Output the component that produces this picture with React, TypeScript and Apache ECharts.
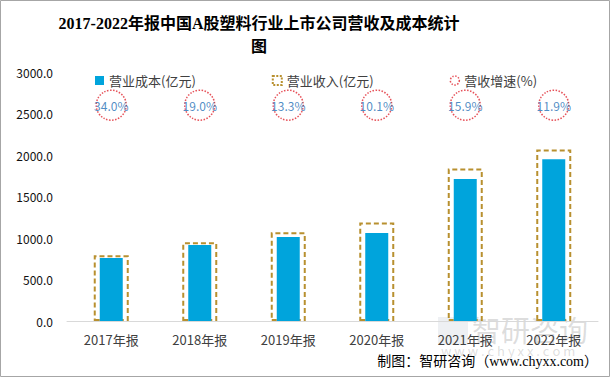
import React, { useEffect, useRef } from "react";
import * as echarts from "echarts";

const categories = ["2017年报", "2018年报", "2019年报", "2020年报", "2021年报", "2022年报"];
const costValues = [760, 915, 1012, 1060, 1710, 1950];
const revenueValues = [792, 948, 1068, 1188, 1838, 2066];
const growthLabels = ["34.0%", "19.0%", "13.3%", "10.1%", "15.9%", "11.9%"];
const growthMarkerLevel = [2600, 2600, 2600, 2600, 2600, 2600];
const yTicks = { min: 0, max: 3000, interval: 500 };

const SANS = "'Noto Sans CJK SC', 'Noto Sans', sans-serif";
const SERIF = "'Liberation Serif', 'DejaVu Serif', 'Noto Sans CJK SC', serif";

export default function App() {
  const ref = useRef<HTMLDivElement>(null);
  useEffect(() => {
    document.body.style.margin = "0";
    const chart = echarts.init(ref.current!, null, { renderer: "svg" });
    chart.setOption({
      animation: false,
      backgroundColor: "#fff",
      grid: { left: 67, right: 12, top: 72, bottom: 56 },
      legend: {
        left: 90,
        top: 69,
        itemGap: 76,
        itemWidth: 9,
        itemHeight: 9,
        textStyle: { fontSize: 13, color: "#404040", fontFamily: SANS },
        data: [
          { name: "营业成本(亿元)", icon: "rect" },
          { name: "营业收入(亿元)", icon: "rect", itemStyle: { borderType: [2, 1.5], borderWidth: 2 } },
          { name: "营收增速(%)", icon: "circle", itemStyle: { borderType: [1.5, 1.5], borderWidth: 1.5 } },
        ],
      },
      xAxis: [
        {
          type: "category",
          data: categories,
          axisTick: { show: false },
          axisLine: { lineStyle: { color: "#D9D9D9", width: 1 } },
          axisLabel: { color: "#404040", fontSize: 13, margin: 12, fontFamily: SANS },
        },
        {
          type: "category",
          data: categories,
          show: false,
          position: "bottom",
        },
      ],
      yAxis: {
        type: "value",
        min: yTicks.min,
        max: yTicks.max,
        interval: yTicks.interval,
        splitLine: { show: false },
        axisLine: { show: false },
        axisTick: { show: false },
        axisLabel: {
          color: "#111",
          fontSize: 12,
          margin: 14,
          fontFamily: SANS,
          formatter: (v: number) => v.toFixed(1),
        },
      },
      series: [
        {
          name: "营业收入(亿元)",
          type: "bar",
          xAxisIndex: 1,
          data: revenueValues,
          barWidth: 35,
          z: 1,
          itemStyle: {
            color: "rgba(255,255,255,0)",
            borderColor: "#B8902F",
            borderWidth: 2,
            borderType: [5, 3],
          },
        },
        {
          name: "营业成本(亿元)",
          type: "bar",
          xAxisIndex: 0,
          data: costValues,
          barWidth: 23,
          z: 2,
          itemStyle: { color: "#00A4DC" },
        },
        {
          name: "营收增速(%)",
          type: "scatter",
          xAxisIndex: 0,
          data: growthMarkerLevel,
          symbol: "circle",
          symbolSize: 30,
          z: 3,
          itemStyle: {
            color: "#fff",
            borderColor: "#E02530",
            borderWidth: 1.5,
            borderType: [1.5, 1.5],
          },
          label: {
            show: true,
            position: "inside",
            color: "#1F6FB5",
            fontSize: 12,
            fontFamily: SANS,
            formatter: (p: any) => growthLabels[p.dataIndex],
          },
        },
      ],
      graphic: [
        {
          type: "rect",
          shape: { x: 0.5, y: 0.5, width: 609, height: 376 },
          style: { fill: "none", stroke: "#A6A6A6", lineWidth: 1 },
          silent: true,
          z: 100,
        },
        {
          type: "text",
          x: 259,
          y: 12,
          style: {
            text: "2017-2022年报中国A股塑料行业上市公司营收及成本统计\n图",
            fontSize: 16,
            fontWeight: "bold",
            fontFamily: SERIF,
            fill: "#000",
            align: "center",
            lineHeight: 23,
          },
        },
        {
          type: "rect",
          shape: { x: 438, y: 317, width: 30, height: 28 },
          style: { fill: "rgba(160,170,190,0.18)", stroke: "none" },
          silent: true,
          z: 0,
        },
        {
          type: "text",
          x: 472,
          y: 314,
          style: {
            text: "智研咨询",
            fontSize: 29,
            fontFamily: SANS,
            fill: "rgba(120,120,120,0.25)",
          },
          silent: true,
          z: 0,
        },
        {
          type: "text",
          x: 441,
          y: 344,
          style: {
            text: "w w w . c h y x x . c o m",
            fontSize: 13,
            fontFamily: SANS,
            fill: "rgba(120,120,120,0.25)",
          },
          silent: true,
          z: 0,
        },
        {
          type: "text",
          x: 598,
          y: 354,
          style: {
            text: "制图：智研咨询（www.chyxx.com）",
            fontSize: 14,
            fontFamily: SERIF,
            fill: "#000",
            align: "right",
          },
        },
      ],
    });
    return () => chart.dispose();
  }, []);
  return (
    <div
      ref={ref}
      style={{ position: "absolute", left: 0, top: 0, width: 610, height: 377 }}
    />
  );
}
